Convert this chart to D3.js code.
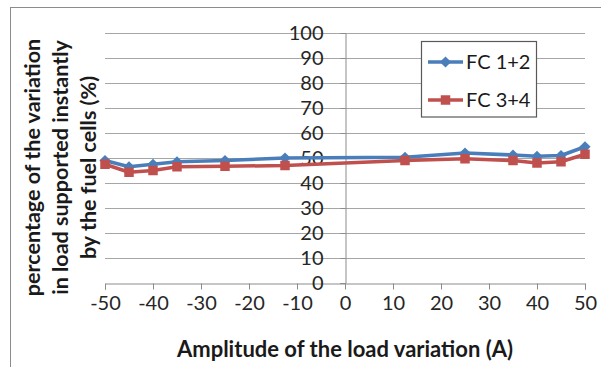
<!DOCTYPE html>
<html><head><meta charset="utf-8">
<script src="https://cdn.jsdelivr.net/npm/d3@7/dist/d3.min.js"></script>
<style>body{margin:0;background:#fff}svg{display:block}</style>
</head><body>
<script>
const xValues = [-50, -45, -40, -35, -25, -12.5, 12.5, 25, 35, 40, 45, 50];
const fc12 = [49, 46.5, 47.5, 48.5, 49, 50, 50.3, 52, 51.2, 50.7, 51, 54.5];
const fc34 = [47.5, 44.3, 45, 46.5, 46.7, 47, 49, 49.7, 49, 48, 48.5, 51.5];
const seriesNames = ["FC 1+2", "FC 3+4"];
const xTicks = [-50, -40, -30, -20, -10, 0, 10, 20, 30, 40, 50];
const yTicks = [0, 10, 20, 30, 40, 50, 60, 70, 80, 90, 100];

const W = 601, H = 367;
const font = "Lato, 'Open Sans', sans-serif";
const svg = d3.select("body").append("svg").attr("width", W).attr("height", H);

svg.append("rect").attr("x", 10.5).attr("y", 7.5).attr("width", 620).attr("height", 400)
  .attr("fill", "#fff").attr("stroke", "#8c8c8c").attr("stroke-width", 1);

const x = d3.scaleLinear().domain([-50, 50]).range([105, 585]);
const y = d3.scaleLinear().domain([0, 100]).range([283, 33]);

// gridlines
svg.append("g").selectAll("line").data(yTicks.filter(d => d > 0)).join("line")
  .attr("x1", x(-50)).attr("x2", x(50))
  .attr("y1", d => Math.round(y(d)) + 0.5).attr("y2", d => Math.round(y(d)) + 0.5)
  .attr("stroke", "#a6a6a6").attr("stroke-width", 1);

// x axis
const xAxis = d3.axisBottom(x).tickValues(xTicks).tickSize(6).tickFormat(d3.format("d"));
const gx = svg.append("g").attr("transform", `translate(0,${Math.round(y(0)) + 0.5})`).call(xAxis);
gx.select(".domain").attr("stroke", "#8c8c8c");
gx.selectAll(".tick line").attr("stroke", "#8c8c8c");
gx.selectAll(".tick text").attr("font-family", font).attr("font-size", 20).attr("fill", "#262626")
  .attr("dy", null).attr("y", 26.5).text(d => d);

// y axis at x=0
const yAxis = d3.axisLeft(y).tickValues(yTicks).tickSize(5).tickPadding(4);
const gy = svg.append("g").attr("transform", `translate(${Math.round(x(0)) + 0.5},0)`).call(yAxis);
gy.select(".domain").attr("stroke", "#8c8c8c");
gy.selectAll(".tick line").attr("stroke", "#8c8c8c");
gy.selectAll(".tick text").attr("font-family", font).attr("font-size", 20).attr("fill", "#262626")
  .attr("x", -22).attr("dy", "0.3em");

// lines
const series = [
  { name: seriesNames[0], vals: fc12, color: "#4a7ebb", marker: "diamond" },
  { name: seriesNames[1], vals: fc34, color: "#c0504d", marker: "square" }
];
const line = d3.line().x((d, i) => x(xValues[i])).y(d => y(d));
function drawMarker(g, type, color) {
  if (type === "diamond") {
    g.append("path").attr("d", d3.symbol(d3.symbolDiamond2, 80)()).attr("fill", color);
  } else {
    g.append("path").attr("d", d3.symbol(d3.symbolSquare2, 115)()).attr("fill", color);
  }
}
series.forEach(s => {
  svg.append("path").datum(s.vals).attr("d", line).attr("fill", "none")
    .attr("stroke", s.color).attr("stroke-width", 3.5).attr("stroke-linejoin", "round");
  s.vals.forEach((v, i) => {
    const g = svg.append("g").attr("transform", `translate(${x(xValues[i])},${y(v)})`);
    drawMarker(g, s.marker, s.color);
  });
});

// legend
const lg = svg.append("g");
lg.append("rect").attr("x", 421.5).attr("y", 41.5).attr("width", 115).attr("height", 75.5)
  .attr("fill", "#fff").attr("stroke", "#595959").attr("stroke-width", 1.2);
series.forEach((s, i) => {
  const ly = 62 + i * 38;
  lg.append("line").attr("x1", 428).attr("x2", 463).attr("y1", ly).attr("y2", ly)
    .attr("stroke", s.color).attr("stroke-width", 3.5);
  const g = lg.append("g").attr("transform", `translate(445.5,${ly})`);
  drawMarker(g, s.marker, s.color);
  lg.append("text").attr("x", 466).attr("y", ly).attr("dy", "0.36em")
    .attr("font-family", font).attr("font-size", 20).attr("fill", "#1a1a1a").text(s.name);
});

// axis titles
svg.append("text").attr("x", 345).attr("y", 357).attr("text-anchor", "middle")
  .attr("font-family", font).attr("font-weight", "bold").attr("font-size", 22).attr("fill", "#1a1a1a")
  .text("Amplitude of the load variation (A)");
const yTitle = ["percentage of the variation", "in load supported instantly", "by the fuel cells (%)"];
yTitle.forEach((t, i) => {
  svg.append("text").attr("transform", `translate(${40 + i * 28},167.5) rotate(-90)`)
    .attr("text-anchor", "middle").attr("font-family", font).attr("font-weight", "bold")
    .attr("font-size", 21.5).attr("fill", "#1a1a1a").text(t);
});
</script>
</body></html>
